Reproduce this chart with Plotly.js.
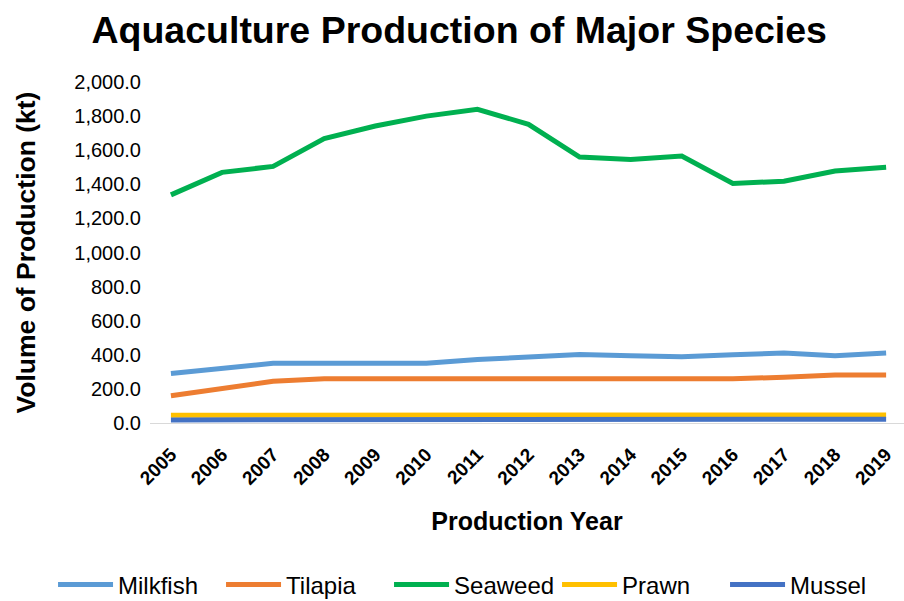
<!DOCTYPE html>
<html>
<head>
<meta charset="utf-8">
<script src="https://cdn.plot.ly/plotly-3.0.1.min.js"></script>
<style>
  html, body { margin: 0; padding: 0; background: #fff; }
  #chart { width: 904px; height: 601px; }
</style>
</head>
<body>
<div id="chart"></div>
<script>
// Production year categories
const years = ["2005", "2006", "2007", "2008", "2009", "2010", "2011", "2012",
               "2013", "2014", "2015", "2016", "2017", "2018", "2019"];

// Volume of production per species, thousand tonnes
const milkfish = [290, 320, 350, 350, 350, 350, 372, 388, 402, 395, 388, 400, 410, 395, 410];
const tilapia  = [160, 205, 245, 260, 260, 260, 260, 260, 265, 258, 260, 260, 268, 282, 282];
const seaweed  = [1338, 1470, 1505, 1668, 1742, 1800, 1840, 1752, 1560, 1545, 1566, 1405, 1418, 1478, 1500];
const prawn    = [45, 46, 46, 48, 48, 48, 48, 48, 48, 47, 47, 47, 47, 47, 47];
const mussel   = [18, 18, 18, 25, 18, 22, 23, 23, 24, 18, 18, 18, 18, 22, 22];

const seriesNames  = ["Milkfish", "Tilapia", "Seaweed", "Prawn", "Mussel"];
const seriesValues = [milkfish, tilapia, seaweed, prawn, mussel];
const seriesColors = ["#5B9BD5", "#ED7D31", "#00B050", "#FFC000", "#4472C4"];

const FONT = "Arial, Liberation Sans, sans-serif";

const traces = seriesNames.map((name, i) => ({
  type: "scatter",
  mode: "lines",
  name: name,
  x: years,
  y: seriesValues[i],
  line: { color: seriesColors[i], width: 5 },
  hoverinfo: "x+y+name"
}));

const layout = {
  width: 904,
  height: 601,
  paper_bgcolor: "#ffffff",
  plot_bgcolor: "#ffffff",
  font: { family: FONT, color: "#000000" },
  margin: { l: 150, r: 0, t: 82, b: 178, autoexpand: false },
  title: {
    text: "<b>Aquaculture Production of Major Species</b>",
    font: { size: 37.5, color: "#000000", family: FONT },
    x: 0.508, xanchor: "center", xref: "container",
    y: 0.95, yanchor: "middle", yref: "container"
  },
  xaxis: {
    type: "category",
    range: [-0.41, 14.35],
    showgrid: false,
    zeroline: false,
    showline: true,
    linecolor: "#d9d9d9",
    linewidth: 1,
    ticks: "",
    tickangle: -45,
    ticklabelstandoff: 12,
    tickfont: { size: 19, family: FONT, weight: "bold", color: "#000" },
    automargin: false,
    title: {
      text: "<b>Production Year</b>",
      font: { size: 25, color: "#000000" },
      standoff: 24
    }
  },
  yaxis: {
    range: [0, 2000],
    tickvals: [0, 200, 400, 600, 800, 1000, 1200, 1400, 1600, 1800, 2000],
    tickformat: ",.1f",
    showgrid: false,
    zeroline: false,
    showline: false,
    ticks: "",
    ticklabelstandoff: 8,
    automargin: false,
    tickfont: { size: 20, color: "#000" },
    title: {
      text: "<b>Volume of Production (kt)</b>",
      font: { size: 26.5, color: "#000000" },
      standoff: 30
    }
  },
  showlegend: true,
  legend: {
    orientation: "h",
    xref: "paper", yref: "paper",
    x: -0.1286, xanchor: "left",
    y: -0.475, yanchor: "middle",
    font: { size: 24, color: "#000" },
    itemwidth: 55,
    entrywidth: 98,
    entrywidthmode: "pixels",
    traceorder: "normal"
  }
};

Plotly.newPlot("chart", traces, layout, { displayModeBar: false, responsive: false });
</script>
</body>
</html>
